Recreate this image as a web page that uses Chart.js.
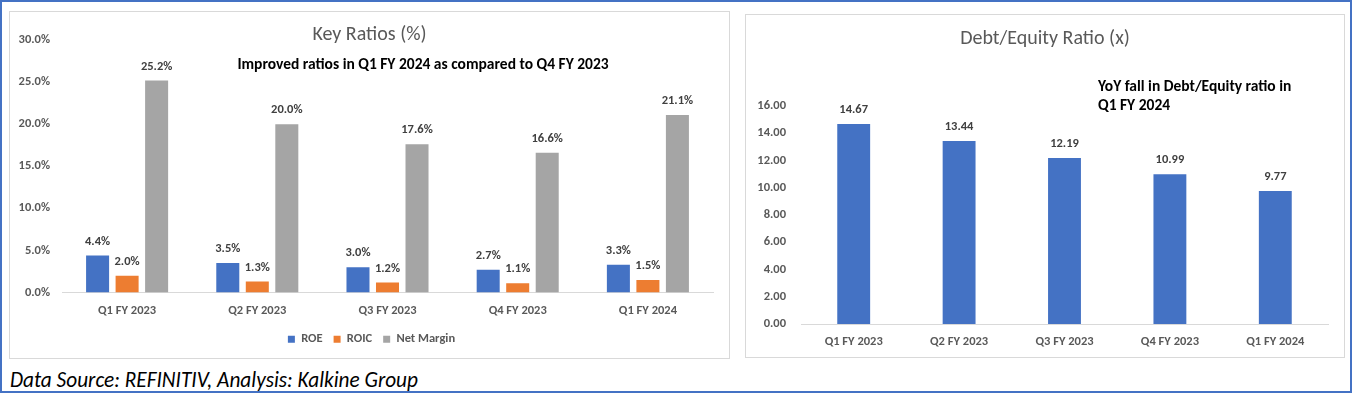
<!DOCTYPE html>
<html><head><meta charset="utf-8">
<script src="https://cdn.jsdelivr.net/npm/chart.js@4.4.1/dist/chart.umd.min.js"></script>
<style>
html,body{margin:0;padding:0;background:#fff;}
body{width:1354px;height:395px;position:relative;overflow:hidden;font-family:Carlito,Calibri,Lato,sans-serif;}
#outer{position:absolute;left:0;top:0;width:1348px;height:389px;border:2px solid #4472C4;}
.box{position:absolute;border:1px solid #d9d9d9;box-sizing:border-box;background:#fff;}
#boxL{left:9px;top:11px;width:721px;height:348px;}
#boxR{left:745px;top:14px;width:600px;height:344px;}
.wrap{position:absolute;left:0;top:0;right:0;bottom:0;}
#foot{position:absolute;left:10px;top:367px;font-style:italic;font-size:22px;line-height:26px;white-space:nowrap;transform-origin:0 50%;color:#000;}
</style></head><body>
<div id="outer"></div>
<div class="box" id="boxL"><div class="wrap"><canvas id="cL"></canvas></div></div>
<div class="box" id="boxR"><div class="wrap"><canvas id="cR"></canvas></div></div>
<div id="foot">Data Source: REFINITIV, Analysis: Kalkine Group</div>
<script>
// ---- data ----
const categories = ["Q1 FY 2023","Q2 FY 2023","Q3 FY 2023","Q4 FY 2023","Q1 FY 2024"];
const roe = [4.4, 3.5, 3.0, 2.7, 3.3];
const roic = [2.0, 1.3, 1.2, 1.1, 1.5];
const netMargin = [25.2, 20.0, 17.6, 16.6, 21.1];
const debtEquity = [14.67, 13.44, 12.19, 10.99, 9.77];
const leftTitle = "Key Ratios (%)";
const leftNote = "Improved ratios in Q1 FY 2024 as compared to Q4 FY 2023";
const rightTitle = "Debt/Equity Ratio (x)";
const rightNote = ["YoY fall in Debt/Equity ratio in", "Q1 FY 2024"];

const FONT = 'Carlito, Calibri, Lato, sans-serif';
const SZ = 12.5;
Chart.defaults.font.family = FONT;
Chart.defaults.color = '#595959';

const textPlugin = {
  id: 'textBits',
  afterDraw(chart, args, opts) {
    const ctx = chart.ctx;
    ctx.save();
    (opts.items || []).forEach(it => {
      ctx.font = (it.weight || 'normal') + ' ' + it.size + 'px ' + FONT;
      ctx.fillStyle = it.color;
      ctx.textAlign = it.align || 'center';
      ctx.textBaseline = 'middle';
      const x = it.x === 'center' ? chart.width / 2 : it.x;
      ctx.fillText(it.text, x, it.y);
    });
    ctx.restore();
  }
};
const labelPlugin = {
  id: 'barLabels',
  afterDatasetsDraw(chart, args, opts) {
    const ctx = chart.ctx;
    ctx.save();
    ctx.font = 'bold ' + SZ + 'px ' + FONT;
    ctx.fillStyle = '#404040';
    ctx.textAlign = 'center';
    ctx.textBaseline = 'middle';
    chart.data.datasets.forEach((ds, i) => {
      chart.getDatasetMeta(i).data.forEach((el, j) => {
        ctx.fillText(opts.format(ds.data[j]), el.x, el.y - opts.offset);
      });
    });
    ctx.restore();
  }
};
const legendShift = {
  id: 'legendShift',
  afterLayout(chart, args, opts) {
    if (chart.legend && opts.dx) { chart.legend.left += opts.dx; chart.legend.right += opts.dx; }
  }
};

new Chart(document.getElementById('cL'), {
  type: 'bar',
  data: {
    labels: categories,
    datasets: [
      {label: 'ROE', data: roe, backgroundColor: '#4472C4'},
      {label: 'ROIC', data: roic, backgroundColor: '#ED7D31'},
      {label: 'Net Margin', data: netMargin, backgroundColor: '#A5A5A5'}
    ]
  },
  options: {
    responsive: true, maintainAspectRatio: false, animation: false,
    categoryPercentage: 0.68, barPercentage: 0.78,
    layout: {padding: {top: 28, right: 16, bottom: 2.5, left: 0}},
    scales: {
      x: {
        grid: {display: false, drawTicks: false},
        border: {display: true, color: '#d9d9d9', width: 1},
        ticks: {padding: 11, color: '#595959', font: {size: SZ, weight: 'bold'}},
        afterFit(s) { s.height = 29.5; }
      },
      y: {
        min: 0, max: 30,
        grid: {display: false, drawTicks: false},
        border: {display: false},
        ticks: {stepSize: 5, padding: 12, color: '#595959', font: {size: SZ, weight: 'bold'},
          callback: v => v.toFixed(1) + '%'},
        afterFit(s) { s.width = 52; }
      }
    },
    plugins: {
      legend: {position: 'bottom', labels: {boxWidth: 7, boxHeight: 7, padding: 11, color: '#595959', font: {size: SZ, weight: 'bold'}}},
      legendShift: {dx: 10},
      tooltip: {enabled: false},
      barLabels: {format: v => v.toFixed(1) + '%', offset: 14},
      textBits: {items: [
        {text: leftTitle, x: 'center', y: 23, size: 20, color: '#595959'},
        {text: leftNote, x: 413, y: 53, size: 15.5, weight: 'bold', color: '#000'}
      ]}
    }
  },
  plugins: [labelPlugin, textPlugin, legendShift]
});

new Chart(document.getElementById('cR'), {
  type: 'bar',
  data: {
    labels: categories,
    datasets: [{label: 'Debt/Equity', data: debtEquity, backgroundColor: '#4472C4'}]
  },
  options: {
    responsive: true, maintainAspectRatio: false, animation: false,
    categoryPercentage: 0.8, barPercentage: 0.39,
    layout: {padding: {top: 91, right: 16, bottom: 0, left: 0}},
    scales: {
      x: {
        grid: {display: false, drawTicks: false},
        border: {display: true, color: '#d9d9d9', width: 1},
        ticks: {padding: 10, color: '#595959', font: {size: SZ, weight: 'bold'}},
        afterFit(s) { s.height = 33; }
      },
      y: {
        min: 0, max: 16,
        grid: {display: false, drawTicks: false},
        border: {display: false},
        ticks: {stepSize: 2, padding: 15, color: '#595959', font: {size: SZ, weight: 'bold'},
          callback: v => v.toFixed(2)},
        afterFit(s) { s.width = 55; }
      }
    },
    plugins: {
      legend: {display: false},
      tooltip: {enabled: false},
      barLabels: {format: v => v.toFixed(2), offset: 14},
      textBits: {items: [
        {text: rightTitle, x: 'center', y: 24, size: 20, color: '#595959'},
        {text: rightNote[0], x: 352, y: 72, size: 15.5, weight: 'bold', color: '#000', align: 'left'},
        {text: rightNote[1], x: 352, y: 91, size: 15.5, weight: 'bold', color: '#000', align: 'left'}
      ]}
    }
  },
  plugins: [labelPlugin, textPlugin]
});

// fit footer to reference width
const foot = document.getElementById('foot');
const w = foot.getBoundingClientRect().width;
foot.style.transform = 'scaleX(' + (408 / w) + ')';
</script>
</body></html>
